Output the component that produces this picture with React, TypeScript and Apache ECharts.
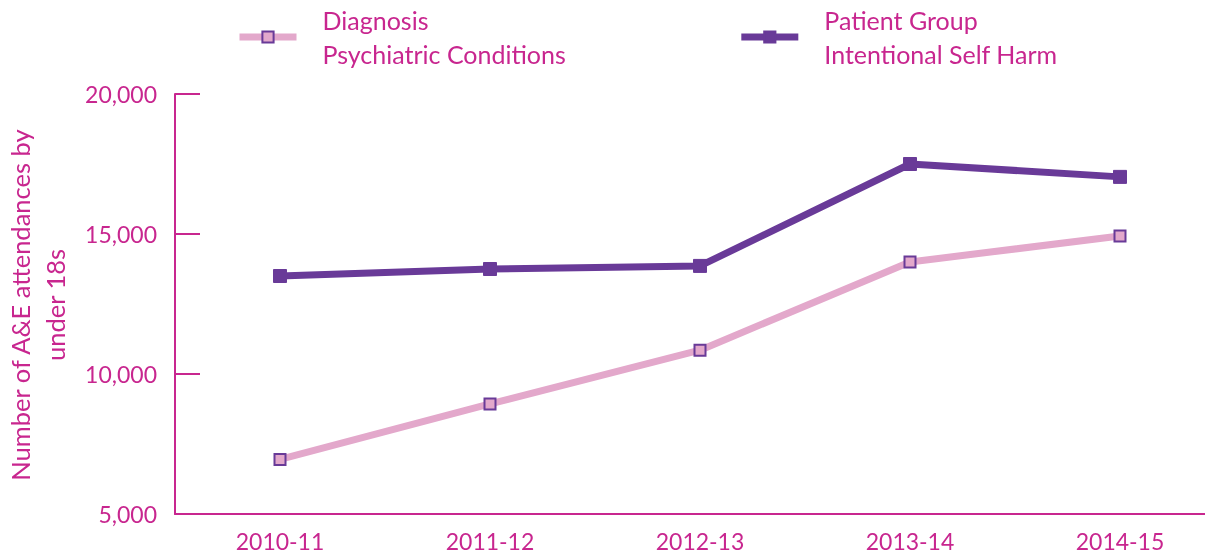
import React, { useEffect, useRef } from "react";
import * as echarts from "echarts";

const categories = ["2010-11", "2011-12", "2012-13", "2013-14", "2014-15"];
const psychiatric = [6950, 8930, 10850, 14000, 14930];
const selfHarm = [13500, 13750, 13860, 17500, 17040];
const seriesNames = ["Diagnosis\nPsychiatric Conditions", "Patient Group\nIntentional Self Harm"];
const yAxisTitle = "Number of A&E attendances by\nunder 18s";

const MAGENTA = "#c8268f";
const PINK = "#e3a8cb";
const PURPLE = "#693a98";
const FONT = "Lato";

export default function App() {
  const ref = useRef<HTMLDivElement>(null);
  useEffect(() => {
    const chart = echarts.init(ref.current!, null, { renderer: "svg" });
    chart.setOption({
      animation: false,
      textStyle: { fontFamily: FONT },
      grid: { left: 175, top: 94, bottom: 40, right: 0 },
      legend: {
        left: 236,
        top: 3,
        padding: 0,
        itemWidth: 57,
        itemHeight: 14,
        itemGap: 172,
        lineStyle: { width: 7 },
        textStyle: {
          color: MAGENTA,
          fontSize: 25,
          lineHeight: 34,
          fontFamily: FONT,
          padding: [0, 0, 0, 21],
        },
        data: seriesNames,
      },
      xAxis: {
        type: "category",
        data: categories,
        boundaryGap: true,
        axisLine: { lineStyle: { color: MAGENTA, width: 2 } },
        axisTick: { inside: true, length: 10, alignWithLabel: true, lineStyle: { color: MAGENTA, width: 2 } },
        axisLabel: { color: MAGENTA, fontSize: 23, margin: 15, fontFamily: FONT },
      },
      yAxis: {
        type: "value",
        min: 5000,
        max: 20000,
        interval: 5000,
        axisLine: { show: true, lineStyle: { color: MAGENTA, width: 2 } },
        axisTick: { show: true, inside: true, length: 25, lineStyle: { color: MAGENTA, width: 2 } },
        splitLine: { show: false },
        axisLabel: {
          color: MAGENTA,
          fontSize: 23,
          margin: 18,
          fontFamily: FONT,
          formatter: (v: number) => v.toLocaleString("en-US"),
        },
      },
      graphic: [
        {
          type: "text",
          x: 37,
          y: 305,
          rotation: Math.PI / 2,
          style: {
            text: yAxisTitle,
            fill: MAGENTA,
            fontSize: 25.5,
            lineHeight: 35,
            fontFamily: FONT,
            align: "center",
            verticalAlign: "middle",
          },
        },
      ],
      series: [
        {
          name: seriesNames[0],
          type: "line",
          data: psychiatric,
          symbol: "rect",
          symbolSize: 11,
          lineStyle: { color: PINK, width: 7 },
          itemStyle: { color: PINK, borderColor: PURPLE, borderWidth: 2 },
        },
        {
          name: seriesNames[1],
          type: "line",
          data: selfHarm,
          symbol: "rect",
          symbolSize: 13,
          lineStyle: { color: PURPLE, width: 7 },
          itemStyle: { color: PURPLE, borderColor: PURPLE, borderWidth: 1 },
        },
      ],
    });
    return () => chart.dispose();
  }, []);
  return (
    <div style={{ position: "fixed", left: 0, top: 0, width: 1205, height: 554, overflow: "hidden" }}>
      <div ref={ref} style={{ width: 1225, height: 554 }} />
    </div>
  );
}
